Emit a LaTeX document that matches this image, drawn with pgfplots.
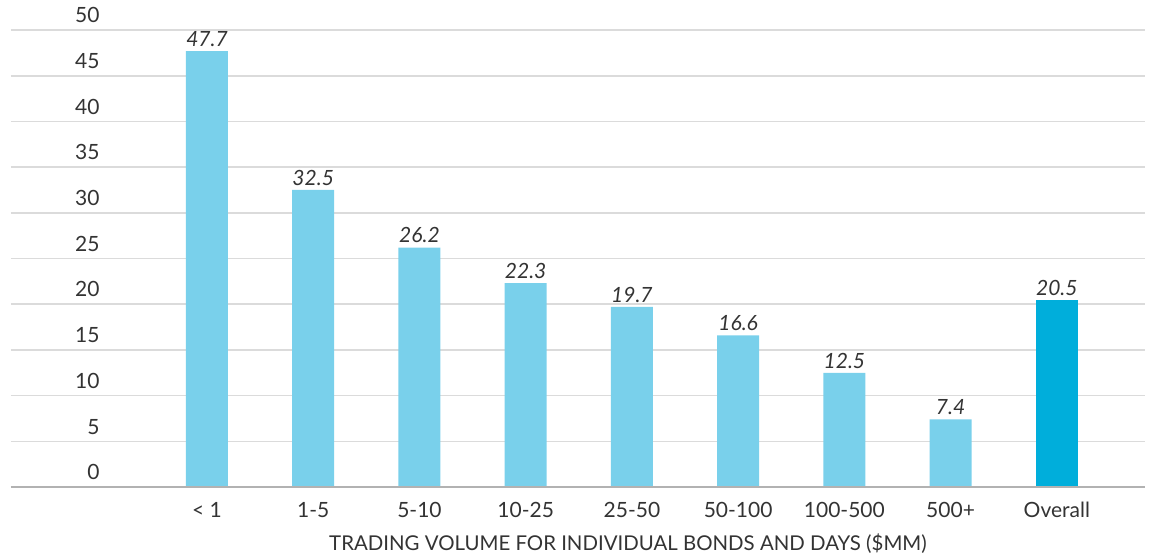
\documentclass[border=0pt]{standalone}
\usepackage{pgfplots}
\pgfplotsset{compat=1.18}
\usepackage{fontspec}
\setmainfont{Lato}
\definecolor{barlight}{HTML}{79D0EB}
\definecolor{baroverall}{HTML}{00AEDB}
\definecolor{txt}{HTML}{333333}
\begin{document}
\begin{tikzpicture}
\path (0,0) rectangle (574.5pt,278pt);
\begin{axis}[
    at={(5.5pt,34.5pt)}, anchor=south west,
    scale only axis, width=567pt, height=228.5pt,
    ybar, bar width=21pt, bar shift=0pt,
    xmin=-1.845, xmax=8.83, ymin=0, ymax=50,
    xtick={0,...,8},
    xticklabels={{< 1},1-5,5-10,10-25,25-50,50-100,100-500,500+,Overall},
    ytick={0,5,...,50},
    ymajorgrids, grid style={color=black!14, line width=0.8pt},
    axis line style={draw=none}, major tick length=0pt,
    /pgf/number format/assume math mode=true,
    tick label style={font=\fontsize{10.5}{12}\selectfont, text=txt},
    yticklabel style={anchor=south east, xshift=47.8pt},
    xticklabel style={yshift=-4pt},
    xlabel={TRADING VOLUME FOR INDIVIDUAL BONDS AND DAYS (\$MM)},
    xlabel style={at={(axis description cs:0.544,0)}, anchor=center, yshift=-28.5pt,
        inner sep=0pt, font=\fontsize{10.2}{12}\selectfont, text=txt},
    nodes near coords,
    nodes near coords style={font=\fontsize{10.5}{12}\selectfont\itshape, text=txt,
        inner sep=2pt, /pgf/number format/fixed, /pgf/number format/fixed zerofill,
        /pgf/number format/precision=1},
]
\addplot[fill=barlight, draw=none] coordinates {
    (0,47.7) (1,32.5) (2,26.2) (3,22.3) (4,19.7) (5,16.6) (6,12.5) (7,7.4)
};
\addplot[fill=baroverall, draw=none] coordinates {(8,20.5)};
\draw[color=black!30, line width=1.3pt] (rel axis cs:0,0) -- (rel axis cs:1,0);
\end{axis}
\end{tikzpicture}
\end{document}
